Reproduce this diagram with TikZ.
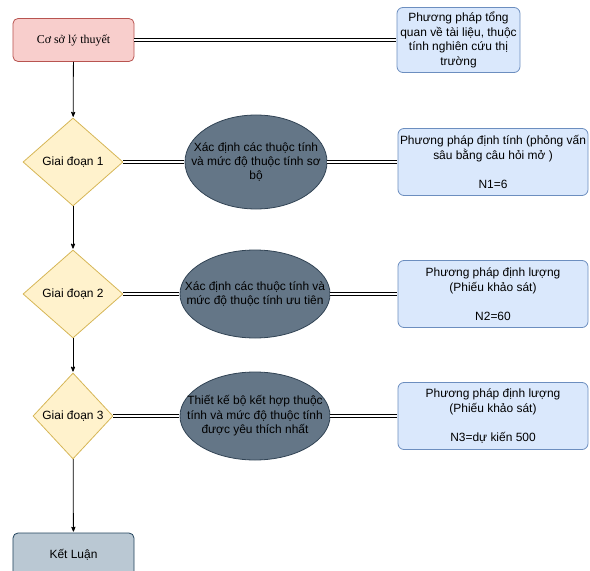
\documentclass[tikz,border=0pt]{standalone}
\usepackage{fontspec}
\setmainfont{Liberation Sans}
\newfontfamily\timesfont{Liberation Serif}
\usepackage{xcolor}
\usetikzlibrary{arrows,shapes,positioning}

\definecolor{pinkfill}{HTML}{F8CECC}
\definecolor{pinkline}{HTML}{B85450}
\definecolor{bluefill}{HTML}{DAE8FC}
\definecolor{blueline}{HTML}{6C8EBF}
\definecolor{yellowfill}{HTML}{FFF2CC}
\definecolor{yellowline}{HTML}{D6B656}
\definecolor{grayfill}{HTML}{647687}
\definecolor{grayline}{HTML}{314354}
\definecolor{endfill}{HTML}{BAC8D3}
\definecolor{endline}{HTML}{23445D}

\begin{document}
\begin{tikzpicture}[x=1bp,y=-1bp,>=stealth',shorten >=1pt,auto,
  thick,font=\fontsize{12}{14.5}\selectfont,
  double line/.style={double,double distance=2bp,line width=1bp},
  start node/.style={rectangle,rounded corners=5pt,draw=pinkline,fill=pinkfill,
    minimum width=121bp,minimum height=43bp,font=\timesfont\fontsize{12}{14.5}\selectfont},
  method node/.style={rectangle,rounded corners=6pt,draw=blueline,fill=bluefill,
    minimum width=190bp,minimum height=67bp,inner sep=1pt,align=center},
  stage node/.style={diamond,draw=yellowline,fill=yellowfill,inner sep=1pt,
    minimum width=100bp,minimum height=88bp},
  goal node/.style={ellipse,draw=grayline,fill=grayfill,
    minimum width=150bp,minimum height=88bp},
  end node/.style={rectangle,rounded corners=5pt,draw=endline,fill=endfill,
    minimum width=121bp,minimum height=43bp}]

\useasboundingbox (0,0) rectangle (590,571);

\node[start node] (base) at (73.5,40) {Cơ sở lý thuyết};
\node[method node,minimum width=123bp,minimum height=65bp] (m0) at (458.5,40)
  {Phương pháp tổng\\quan về tài liệu, thuộc\\tính nghiên cứu thị\\trường};

\node[stage node] (g1) at (73,162) {Giai đoạn 1};
\node[stage node] (g2) at (73,294) {Giai đoạn 2};
\node[stage node,minimum width=80bp,minimum height=86bp] (g3) at (73,416) {Giai đoạn 3};

\node[goal node,minimum width=142bp,minimum height=94bp] (e1) at (256,162) {};
\node[goal node] (e2) at (255,294) {};
\node[goal node] (e3) at (255,416) {};
\node[align=center] (t1) at (e1) {Xác định các thuộc tính\\và mức độ thuộc tính sơ\\bộ};
\node[align=center] (t2) at (e2) {Xác định các thuộc tính và\\mức độ thuộc tính ưu tiên};
\node[align=center] (t3) at (e3) {Thiết kế bộ kết hợp thuộc\\tính và mức độ thuộc tính\\được yêu thích nhất};

\node[method node] (m1) at (493,162) {Phương pháp định tính (phỏng vấn\\sâu bằng câu hỏi mở )\\~\\N1=6};
\node[method node] (m2) at (493,294) {Phương pháp định lượng\\(Phiếu khảo sát)\\~\\N2=60};
\node[method node] (m3) at (493,416) {Phương pháp định lượng\\(Phiếu khảo sát)\\~\\N3=dự kiến 500};

\node[end node] (end) at (73.5,554.5) {Kết Luận};

% luong chinh
\path[->]
(base) edge (g1)
(g1) edge (g2)
(g2) edge (g3)
(g3) edge (end);

\draw[double line] (base.east) -- (m0.west);
\draw[double line] (g1.east) -- (e1.west);
\draw[double line] (e1.east) -- (m1.west);
\draw[double line] (g2.east) -- (e2.west);
\draw[double line] (e2.east) -- (m2.west);
\draw[double line] (g3.east) -- (e3.west);
\draw[double line] (e3.east) -- (m3.west);
\end{tikzpicture}
\end{document}
